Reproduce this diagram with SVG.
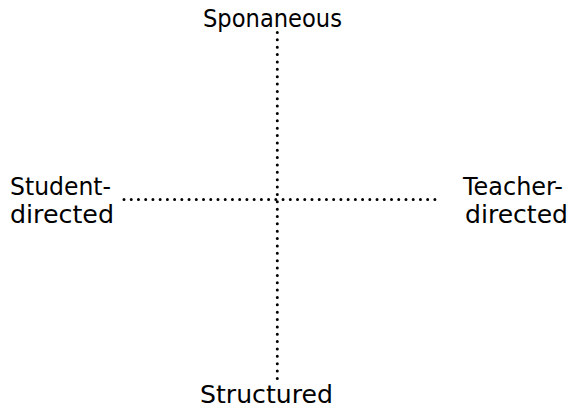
<svg xmlns="http://www.w3.org/2000/svg" width="575" height="409" viewBox="0 0 575 409">
<style>
.lbl{font-family:"DejaVu Sans","Liberation Sans",sans-serif;font-size:24.5px;fill:#000}
.dot{stroke:#000;stroke-width:3;stroke-linecap:round;fill:none}
</style>
<rect width="575" height="409" fill="#fff"/>
<g id="connectors">
<line class="dot" x1="277.3" y1="32.5" x2="277.3" y2="378.5" stroke-dasharray="0 7.36"/>
<line class="dot" x1="124" y1="199.5" x2="435" y2="199.5" stroke-dasharray="0 7.23"/>
</g>
<g id="top"><text class="lbl" x="203" y="27" textLength="139" lengthAdjust="spacingAndGlyphs">Sponaneous</text></g>
<g id="left"><text class="lbl" x="10" y="195" textLength="101" lengthAdjust="spacingAndGlyphs">Student-</text><text class="lbl" x="10" y="223" textLength="104" lengthAdjust="spacingAndGlyphs">directed</text></g>
<g id="right"><text class="lbl" x="463" y="195" textLength="100" lengthAdjust="spacingAndGlyphs">Teacher-</text><text class="lbl" x="465" y="223" textLength="103" lengthAdjust="spacingAndGlyphs">directed</text></g>
<g id="bottom"><text class="lbl" x="200" y="403" textLength="133" lengthAdjust="spacingAndGlyphs">Structured</text></g>
</svg>
